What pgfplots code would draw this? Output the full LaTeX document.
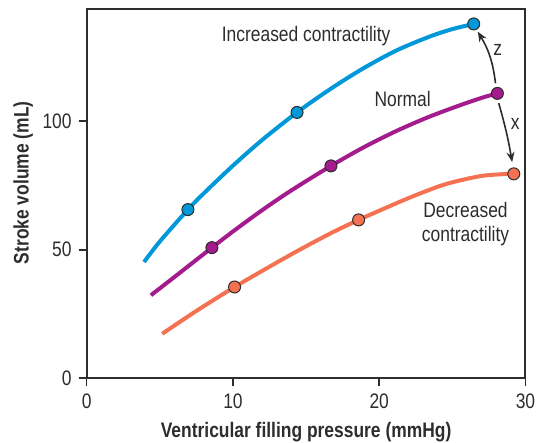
\documentclass[border=0pt]{standalone}
\usepackage{pgfplots}
\pgfplotsset{compat=1.18}
\usepackage{fontspec}
\setmainfont{Liberation Sans}[FakeStretch=0.83]
\usetikzlibrary{arrows.meta}

\definecolor{incblue}{RGB}{0,152,216}
\definecolor{normpurple}{RGB}{163,27,140}
\definecolor{decorange}{RGB}{244,113,82}
\definecolor{axisgray}{RGB}{45,45,45}

\begin{document}
\begin{tikzpicture}
\begin{axis}[
    name=ax,
    scale only axis,
    width=219.4pt, height=184.5pt,
    xmin=0, xmax=30, ymin=0, ymax=143.5,
    xtick={0,10,20,30}, ytick={0,50,100},
    xtick pos=bottom, ytick pos=left,
    tick align=outside,
    major tick length=4pt,
    axis line style={axisgray, line width=1pt},
    tick style={axisgray, line width=0.8pt},
    /pgf/number format/assume math mode=true,
    tick label style={font=\fontsize{10.5}{12}\selectfont, text=axisgray},
    label style={font=\fontsize{10.5}{12}\selectfont\bfseries, text=axisgray},
    xlabel={Ventricular filling pressure (mmHg)},
    ylabel={Stroke volume (mL)},
    xlabel style={at={(axis description cs:0.5,-0.145)}, anchor=center},
    ylabel style={at={(axis description cs:-0.145,0.53)}, anchor=center},
    clip=false,
]
% increased contractility
\addplot[incblue, line width=2pt, smooth] coordinates {
    (3.92,45.2) (5,53.2) (6.92,65.6) (8,71.9) (10,82.7) (12,92.7) (14.38,103.4)
    (16.66,112.5) (18.93,120.6) (21.22,127.6) (23.5,133.0) (25,135.8) (26.46,137.8)};
\addplot[only marks, mark=*, mark size=3pt, mark options={fill=incblue, draw=axisgray, line width=0.5pt}] coordinates {
    (6.92,65.6) (14.38,103.4) (26.46,137.8)};
% normal
\addplot[normpurple, line width=2pt, smooth] coordinates {
    (4.39,32.3) (6,39.4) (8.56,50.8) (10,57.1) (12,65.4) (14,73.1) (16.70,82.6)
    (18.93,89.8) (21.22,96.3) (23.5,101.9) (25.78,106.7) (27.2,109.4) (28.08,110.8)};
\addplot[only marks, mark=*, mark size=3pt, mark options={fill=normpurple, draw=axisgray, line width=0.5pt}] coordinates {
    (8.56,50.8) (16.70,82.6) (28.08,110.8)};
% decreased contractility
\addplot[decorange, line width=2pt, smooth] coordinates {
    (5.16,17.3) (7.5,26.2) (10.11,35.5) (12.5,43.4) (14.5,49.8) (16.65,56.3)
    (18.59,61.6) (20.5,66.4) (22.4,71.0) (24.6,75.6) (26.9,78.6) (28.5,79.4) (29.2,79.5)};
\addplot[only marks, mark=*, mark size=3pt, mark options={fill=decorange, draw=axisgray, line width=0.5pt}] coordinates {
    (10.11,35.5) (18.59,61.6) (29.2,79.5)};

\node[font=\fontsize{10.5}{12}\selectfont, text=axisgray] at (axis cs:15.0,132.9) {Increased contractility};
\node[font=\fontsize{10.5}{12}\selectfont, text=axisgray] at (axis cs:21.6,108.6) {Normal};
\node[font=\fontsize{10.5}{12}\selectfont, text=axisgray, align=center] at (axis cs:25.9,59.9) {Decreased\\contractility};
\node[font=\fontsize{10.5}{12}\selectfont, text=axisgray] at (axis cs:28.1,127.6) {z};
\node[font=\fontsize{10.5}{12}\selectfont, text=axisgray] at (axis cs:29.3,98.9) {x};

\draw[-{Stealth[length=5pt,width=4pt]}, line width=0.8pt, axisgray]
    (axis cs:27.95,114.7) to[bend right=12] (axis cs:26.74,134.8);
\draw[-{Stealth[length=5pt,width=4pt]}, line width=0.8pt, axisgray]
    (axis cs:28.17,107.0) to[bend left=3] (axis cs:29.09,84.1);
\end{axis}
\pgfresetboundingbox
\path[use as bounding box] ([shift={(-43.35pt,-32.35pt)}]ax.south west)
    rectangle ([shift={(225.15pt,189.15pt)}]ax.south west);
\end{tikzpicture}
\end{document}
